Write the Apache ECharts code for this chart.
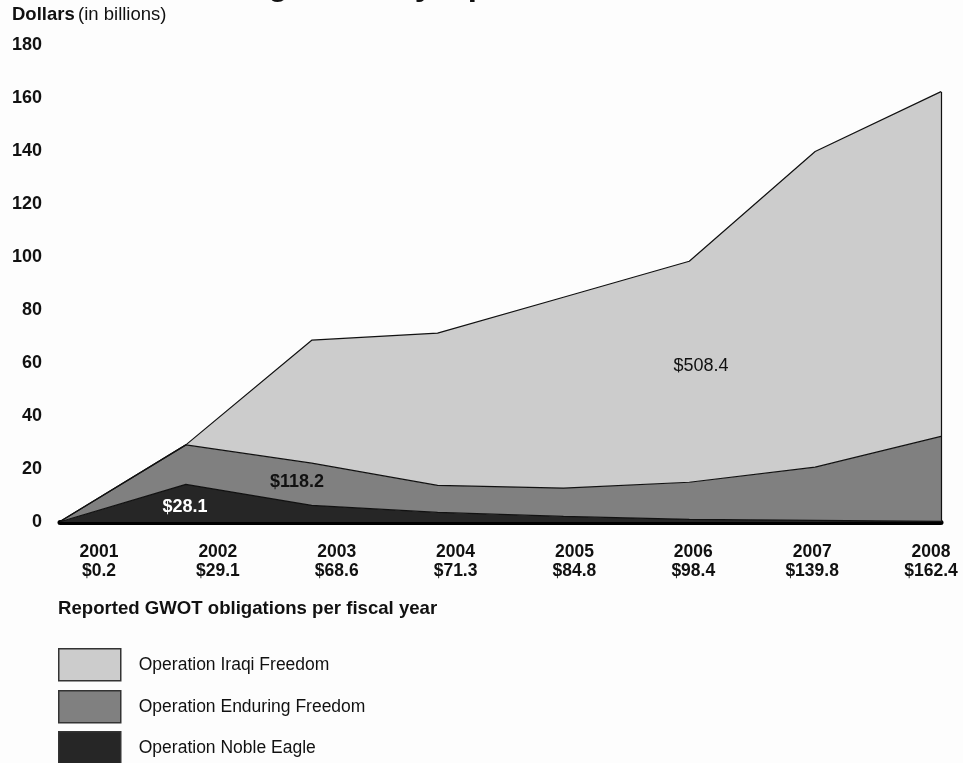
<!DOCTYPE html>
<html><head><meta charset="utf-8">
<script src="https://cdn.jsdelivr.net/npm/echarts@6/dist/echarts.min.js"></script>
<style>html,body{margin:0;padding:0;background:#fdfdfd}#c{width:963px;height:763px}</style>
</head><body><div id="c"></div>
<script>
const years = ['2001','2002','2003','2004','2005','2006','2007','2008'];
const yearTotals = ['$0.2','$29.1','$68.6','$71.3','$84.8','$98.4','$139.8','$162.4'];
const nobleEagle = [0.1, 14.2, 6.3, 3.6, 2.1, 1.0, 0.6, 0.2];
const enduringFreedom = [0.1, 14.9, 15.9, 10.2, 10.7, 14.0, 20.1, 32.1];
const iraqiFreedom = [0, 0, 46.4, 57.5, 72.0, 83.4, 119.1, 130.1];
const totals = [0.2, 29.1, 68.6, 71.3, 84.8, 98.4, 139.8, 162.4];
const yTicks = {min: 0, max: 180, interval: 20};
const names = ['Operation Iraqi Freedom','Operation Enduring Freedom','Operation Noble Eagle'];
const fills = {'Operation Iraqi Freedom':'#cccccc','Operation Enduring Freedom':'#808080','Operation Noble Eagle':'#262626'};

const FONT = '"Liberation Sans", Arial, Helvetica, sans-serif';
const chart = echarts.init(document.getElementById('c'));

function areaSeries(name, data, extra) {
  return Object.assign({
    name: name, type: 'line', stack: 'total', data: data,
    xAxisIndex: 0, yAxisIndex: 0,
    showSymbol: false, symbol: 'none', smooth: false,
    itemStyle: {color: fills[name]},
    lineStyle: {color: '#111', width: 1.2},
    areaStyle: {color: fills[name], opacity: 1},
    emphasis: {disabled: true}, silent: true, z: 2
  }, extra || {});
}

function legendFor(name, top) {
  return {
    data: [name], orient: 'vertical', left: 58, top: top,
    itemWidth: 62, itemHeight: 32, icon: 'rect', padding: 0,
    selectedMode: false,
    itemStyle: {borderColor: '#333', borderWidth: 1.5},
    textStyle: {fontSize: 17.5, color: '#111', fontFamily: FONT, padding: [0, 0, 0, 13]}
  };
}

chart.setOption({
  animation: false,
  backgroundColor: '#fdfdfd',
  textStyle: {fontFamily: FONT},
  grid: [
    {left: 60, right: 22, top: 45, bottom: 241},
    {left: 99, right: 32, top: 45, bottom: 241}
  ],
  xAxis: [
    {type: 'category', gridIndex: 0, data: years, boundaryGap: false, offset: 3,
     axisLine: {show: true, lineStyle: {color: '#000', width: 5}},
     axisTick: {show: false}, axisLabel: {show: false}, splitLine: {show: false}},
    {type: 'category', gridIndex: 1, data: years, boundaryGap: false,
     axisLine: {show: false}, axisTick: {show: false}, splitLine: {show: false},
     axisLabel: {show: true, margin: 21, interval: 0, color: '#111', fontFamily: FONT,
       fontWeight: 'bold', fontSize: 17.5, lineHeight: 19, align: 'center',
       formatter: function (v, i) { return v + '\n' + yearTotals[i]; }}}
  ],
  yAxis: [
    {type: 'value', gridIndex: 0, min: yTicks.min, max: yTicks.max, interval: yTicks.interval,
     axisLine: {show: false}, axisTick: {show: false}, splitLine: {show: false},
     axisLabel: {margin: 18, color: '#111', fontWeight: 'bold', fontSize: 18, fontFamily: FONT}},
    {type: 'value', gridIndex: 1, min: 0, max: 180, show: false}
  ],
  legend: [
    legendFor(names[0], 648),
    legendFor(names[1], 690),
    legendFor(names[2], 731)
  ],
  series: [
    areaSeries('Operation Noble Eagle', nobleEagle),
    areaSeries('Operation Enduring Freedom', enduringFreedom),
    areaSeries('Operation Iraqi Freedom', iraqiFreedom, {
      markLine: {
        silent: true, symbol: 'none', label: {show: false},
        lineStyle: {color: '#111', width: 1.2, type: 'solid'},
        data: [[{coord: [years[7], 0]}, {coord: [years[7], totals[7]]}]]
      }
    })
  ],
  graphic: [
    {type: 'text', left: 92, top: -31, silent: true,
     style: {text: 'GWOT Obligations by Operation', fill: '#111', font: 'bold 33px ' + FONT}},
    {type: 'text', left: 12, top: 5, silent: true,
     style: {text: '{b|Dollars} {r|(in billions)}', fill: '#111',
       rich: {b: {fontWeight: 'bold', fontSize: 18.5, fontFamily: FONT, fill: '#111'},
              r: {fontSize: 18.5, fontFamily: FONT, fill: '#111'}}}},
    {type: 'text', left: 58, top: 599, silent: true,
     style: {text: 'Reported GWOT obligations per fiscal year', fill: '#111', font: 'bold 18.6px ' + FONT}},
    {type: 'text', x: 701, y: 366, silent: true, z: 10,
     style: {text: '$508.4', fill: '#111', font: '18px ' + FONT, align: 'center', verticalAlign: 'middle'}},
    {type: 'text', x: 297, y: 482, silent: true, z: 10,
     style: {text: '$118.2', fill: '#111', font: 'bold 18px ' + FONT, align: 'center', verticalAlign: 'middle'}},
    {type: 'text', x: 185, y: 507, silent: true, z: 10,
     style: {text: '$28.1', fill: '#fff', font: 'bold 18px ' + FONT, align: 'center', verticalAlign: 'middle'}}
  ]
});
</script>
</body></html>
